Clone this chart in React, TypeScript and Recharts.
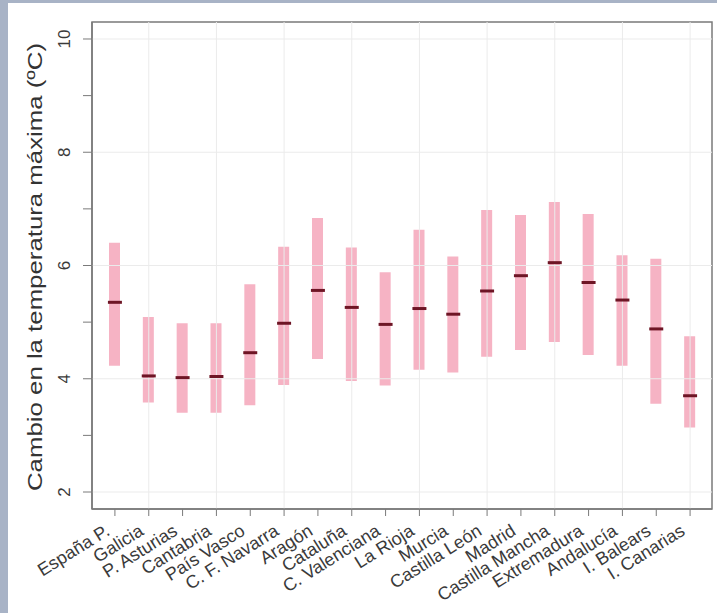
import { ComposedChart, Bar, Scatter, XAxis, YAxis, ReferenceLine, usePlotArea } from "recharts"

const regions = [
  "España P.", "Galicia", "P. Asturias", "Cantabria", "País Vasco", "C. F. Navarra",
  "Aragón", "Cataluña", "C. Valenciana", "La Rioja", "Murcia", "Castilla León",
  "Madrid", "Castilla Mancha", "Extremadura", "Andalucía", "I. Balears", "I. Canarias",
]
const lows = [4.23, 3.58, 3.40, 3.40, 3.53, 3.89, 4.35, 3.96, 3.88, 4.16, 4.11, 4.39, 4.51, 4.65, 4.42, 4.23, 3.56, 3.14]
const highs = [6.40, 5.09, 4.98, 4.98, 5.67, 6.33, 6.84, 6.32, 5.88, 6.63, 6.16, 6.98, 6.89, 7.12, 6.91, 6.18, 6.12, 4.75]
const medians = [5.35, 4.05, 4.02, 4.04, 4.46, 4.98, 5.56, 5.26, 4.96, 5.24, 5.14, 5.55, 5.82, 6.05, 5.70, 5.39, 4.88, 3.70]
const yTicks = [2, 3, 4, 5, 6, 7, 8, 9, 10]
const yLabelled = [2, 4, 6, 8, 10]

const data = regions.map((name, i) => ({
  name,
  range: [lows[i], highs[i]],
  median: medians[i],
}))

const FONT = "'Liberation Sans', Arial, sans-serif"
const AXIS = "#7a7a7a"

const XTick = ({ x, y, payload }: any) => (
  <g transform={`translate(${x - 4},${y + 16})`}>
    <text transform="rotate(-32)" textAnchor="end" fontSize={18} fill="#3a3a3a" fontFamily={FONT}>
      {payload.value}
    </text>
  </g>
)

const YTick = ({ x, y, payload }: any) => {
  if (!yLabelled.includes(payload.value)) return null
  return (
    <text transform={`translate(${x - 13},${y}) rotate(-90)`} textAnchor="middle" fontSize={17} fill="#3a3a3a" fontFamily={FONT}>
      {payload.value}
    </text>
  )
}

const MedianMark = ({ cx, cy }: any) => (
  <line x1={cx - 7} x2={cx + 7} y1={cy} y2={cy} stroke="#6e1525" strokeWidth={3} />
)

// box around the plotting region, like R's box()
const Frame = () => {
  const p = usePlotArea ? usePlotArea() : null
  if (!p) return null
  return <rect x={p.x} y={p.y} width={p.width} height={p.height} fill="none" stroke={AXIS} strokeWidth={1.5} />
}

export default function App() {
  return (
    <div style={{ position: "relative", width: 717, height: 613, background: "#a8b3c6", overflow: "hidden" }}>
      <style>{"body{margin:0}"}</style>
      <div style={{ position: "absolute", left: 8, top: 3, right: 0, bottom: 0, background: "#fff" }} />
      <div style={{ position: "absolute", left: 0, top: 0 }}>
        <ComposedChart width={717} height={613} data={data} margin={{ top: 22, right: 5, bottom: 0, left: 0 }}>
          <XAxis
            dataKey="name"
            height={104}
            interval={0}
            padding={{ left: 6, right: 5 }}
            tick={<XTick />}
            tickSize={7}
            tickLine={{ stroke: AXIS }}
            axisLine={{ stroke: AXIS, strokeWidth: 1.5 }}
          />
          <YAxis
            domain={[1.7, 10.3]}
            ticks={yTicks}
            width={92}
            tick={<YTick />}
            tickSize={9}
            tickMargin={0}
            tickLine={{ stroke: AXIS }}
            axisLine={{ stroke: AXIS, strokeWidth: 1.5 }}
            allowDataOverflow
            label={{
              value: "Cambio en la temperatura máxima (ºC)",
              content: () => (
                <text
                  transform="translate(42,267) rotate(-90)"
                  textAnchor="middle"
                  fontSize={20}
                  fill="#333"
                  fontFamily={FONT}
                  textLength={448}
                  lengthAdjust="spacingAndGlyphs"
                >
                  Cambio en la temperatura máxima (ºC)
                </text>
              ),
            }}
          />
          {yLabelled.map((v) => (
            <ReferenceLine key={"h" + v} y={v} stroke="#ebebeb" strokeWidth={1} />
          ))}
          {regions.filter((_, i) => i % 2 === 1).map((r) => (
            <ReferenceLine key={"v" + r} x={r} stroke="#ebebeb" strokeWidth={1} />
          ))}
          <Bar dataKey="range" barSize={11} fill="#f6b3c4" isAnimationActive={false} />
          <Scatter dataKey="median" shape={<MedianMark />} isAnimationActive={false} />
          <Frame />
        </ComposedChart>
      </div>
    </div>
  )
}
